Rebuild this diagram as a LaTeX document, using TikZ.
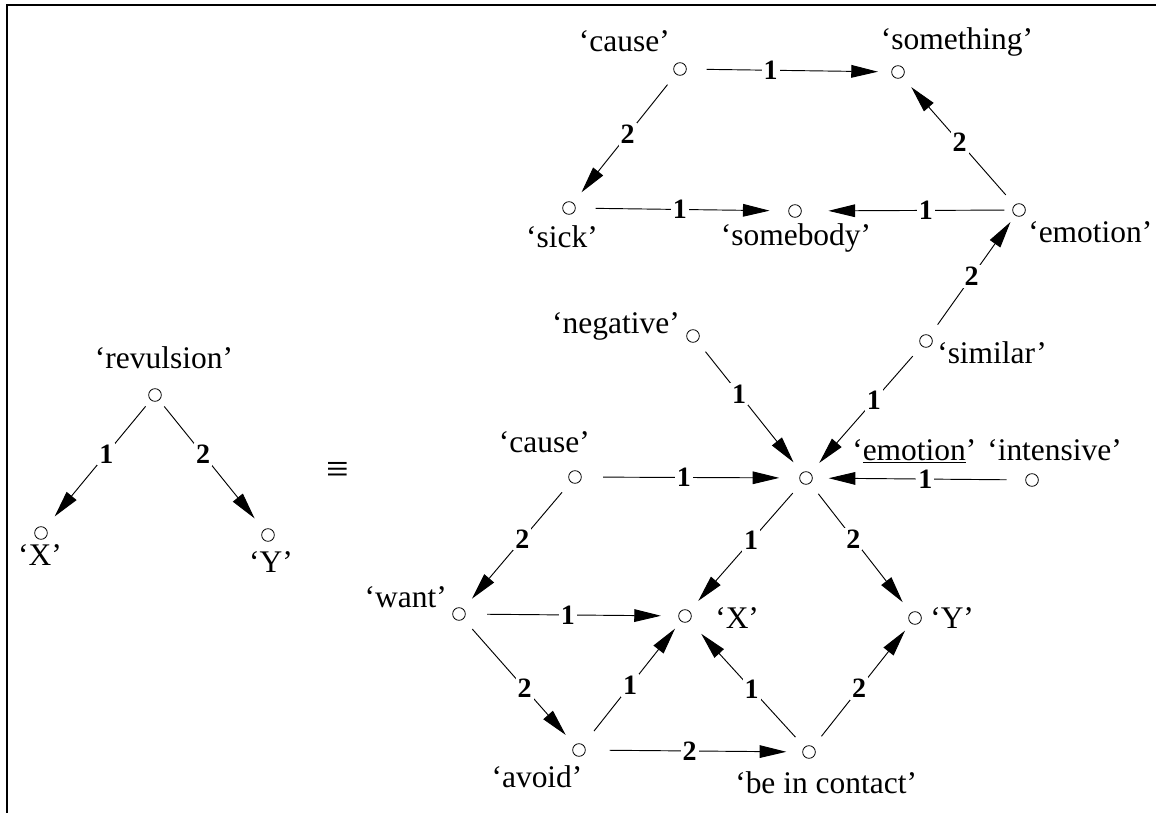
\documentclass[tikz,border=0pt]{standalone}
\usepackage{fontspec}
\setmainfont{Liberation Serif}
\usetikzlibrary{arrows.meta}
\begin{document}
\begin{tikzpicture}[x=0.75pt,y=-0.75pt,
  dot/.style={circle,draw,minimum size=9.5pt,inner sep=0pt,line width=0.6pt},
  txt/.style={inner sep=0pt,font=\fontsize{23.6pt}{28pt}\selectfont},
  arr/.style={-{Triangle[length=20pt,width=9.5pt]},line width=0.7pt,shorten <=10pt,shorten >=10pt},
  lab/.style={fill=white,inner sep=1.5pt,font=\fontsize{21pt}{24pt}\selectfont\bfseries}]
\useasboundingbox (0,0) rectangle (1156,813);
\draw[line width=1.5pt] (7,813) -- (7,5) -- (1156,5);
% circles
\node[dot] (rev) at (155,395) {};
\node[dot] (lx) at (41,533) {};
\node[dot] (ly) at (268,535) {};
\node[dot] (causeT) at (680,69) {};
\node[dot] (some) at (898,72) {};
\node[dot] (sick) at (569,208) {};
\node[dot] (body) at (795,211) {};
\node[dot] (emoT) at (1019,210) {};
\node[dot] (neg) at (693,336) {};
\node[dot] (sim) at (926,341) {};
\node[dot] (emoC) at (806,478) {};
\node[dot] (int) at (1032,480) {};
\node[dot] (causeM) at (575,477) {};
\node[dot] (want) at (459,614) {};
\node[dot] (x) at (685,616) {};
\node[dot] (y) at (915,618) {};
\node[dot] (avoid) at (579,750) {};
\node[dot] (cont) at (809,752) {};
% texts
\node[txt,anchor=base] (trev) at (164,368) {‘revulsion’};
\node[txt,anchor=base] (tlx) at (40,565) {‘X’};
\node[txt,anchor=base] (tly) at (271,572) {‘Y’};
\node[txt,anchor=base east] (tcauseT) at (670,52) {‘cause’};
\node[txt,anchor=base] (tsome) at (957,50) {‘something’};
\node[txt,anchor=base] (tsick) at (562,247) {‘sick’};
\node[txt,anchor=base] (tbody) at (796,245) {‘somebody’};
\node[txt,anchor=base west] (temoT) at (1028,242) {‘emotion’};
\node[txt,anchor=base east] (tneg) at (680,333) {‘negative’};
\node[txt,anchor=base west] (tsim) at (937,363) {‘similar’};
\node[txt,anchor=base west] (temoC) at (852,460) {‘\underline{emotion}’};
\node[txt,anchor=base west] (tint) at (987,460) {‘intensive’};
\node[txt,anchor=base east] (tcauseM) at (590,452) {‘cause’};
\node[txt,anchor=base east] (twant) at (447,607) {‘want’};
\node[txt,anchor=base west] (tx) at (715,628) {‘X’};
\node[txt,anchor=base west] (ty) at (930,628) {‘Y’};
\node[txt,anchor=base] (tavoid) at (537,787) {‘avoid’};
\node[txt,anchor=base west] (tcont) at (735,793) {‘be in contact’};
\node[txt,font=\fontsize{30pt}{32pt}\selectfont] (equiv) at (338,472) {≡};
% edges
\draw[arr,shorten <=15pt] (causeT) -- node[lab,pos=0.41]{1} (some);
\draw[arr] (causeT) -- node[lab,pos=0.47]{2} (sick);
\draw[arr,shorten <=15pt,shorten >=14pt] (sick) -- node[lab,pos=0.49]{1} (body);
\draw[arr,shorten <=6pt,shorten >=20pt] (emoT) -- node[lab,pos=0.41]{1} (body);
\draw[arr] (emoT) -- node[lab,pos=0.49]{2} (some);
\draw[arr,shorten >=6pt] (sim) -- node[lab,pos=0.49]{2} (emoT);
\draw[arr] (neg) -- node[lab,pos=0.40]{1} (emoC);
\draw[arr] (sim) -- node[lab,pos=0.43]{1} (emoC);
\draw[arr,shorten <=16pt,shorten >=15pt] (causeM) -- node[lab,pos=0.47]{1} (emoC);
\draw[arr,shorten <=14pt,shorten >=12pt] (int) -- node[lab,pos=0.47]{1} (emoC);
\draw[arr] (causeM) -- node[lab,pos=0.45]{2} (want);
\draw[arr] (emoC) -- node[lab,pos=0.45]{1} (x);
\draw[arr] (emoC) -- node[lab,pos=0.43]{2} (y);
\draw[arr,shorten <=16pt,shorten >=13pt] (want) -- node[lab,pos=0.48]{1} (x);
\draw[arr] (want) -- node[lab,pos=0.55]{2} (avoid);
\draw[arr,shorten <=13pt,shorten >=7pt] (avoid) -- node[lab,pos=0.48]{1} (x);
\draw[arr,shorten >=13pt] (cont) -- node[lab,pos=0.46]{1} (x);
\draw[arr,shorten >=7pt] (cont) -- node[lab,pos=0.47]{2} (y);
\draw[arr,shorten <=18pt,shorten >=12pt] (avoid) -- node[lab,pos=0.48]{2} (cont);
\draw[arr,shorten <=6pt,shorten >=11pt] (rev) -- node[lab,pos=0.42]{1} (lx);
\draw[arr,shorten <=6pt,shorten >=11pt] (rev) -- node[lab,pos=0.42]{2} (ly);
\end{tikzpicture}
\end{document}
